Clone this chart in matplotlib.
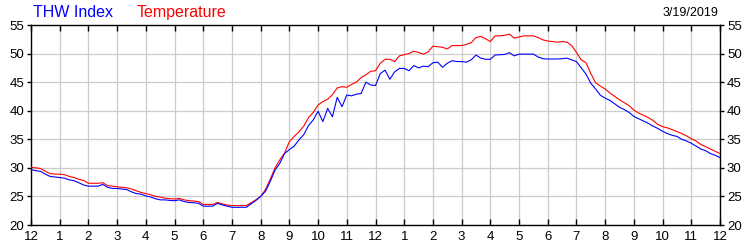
import numpy as np
import matplotlib
matplotlib.use("Agg")
import matplotlib.pyplot as plt

plt.rcParams['font.family'] = ['Liberation Sans', 'DejaVu Sans']

# 10-minute readings, hour 0 to hour 24
temperature = [
    30.1, 30.0, 29.9, 29.4, 29.0, 28.9,
    28.9, 28.8, 28.5, 28.3, 28.0, 27.8,
    27.3, 27.3, 27.3, 27.4, 26.9, 26.8,
    26.7, 26.6, 26.5, 26.3, 26.0, 25.7,
    25.5, 25.3, 25.0, 24.9, 24.7, 24.6,
    24.55, 24.65, 24.4, 24.25, 24.2, 24.1,
    23.6, 23.6, 23.6, 23.95, 23.7, 23.5,
    23.4, 23.4, 23.4, 23.4, 23.9, 24.4,
    25.0, 26.2, 28.0, 30.0, 31.4, 32.6,
    34.6, 35.5, 36.3, 37.3, 38.8, 39.7,
    41.0, 41.6, 42.0, 42.8, 44.0, 44.2,
    44.1, 44.6, 45.0, 45.8, 46.3, 46.9,
    47.0, 48.3, 49.0, 49.0, 48.6, 49.6,
    49.8, 50.0, 50.4, 50.2, 49.9, 50.3,
    51.3, 51.2, 51.1, 50.8, 51.4, 51.4,
    51.4, 51.6, 51.9, 52.8, 53.0, 52.6,
    52.1, 53.1, 53.1, 53.2, 53.4, 52.7,
    52.9, 53.1, 53.1, 53.1, 52.8, 52.4,
    52.2, 52.1, 52.0, 52.1, 52.0, 51.4,
    50.2, 48.9, 48.4, 46.5, 44.9, 44.3,
    43.8, 43.1, 42.5, 41.9, 41.4, 40.9,
    40.1, 39.6, 39.2, 38.8, 38.3, 37.6,
    37.2, 37.0, 36.7, 36.35, 36.0, 35.6,
    35.1, 34.7, 34.1, 33.7, 33.3, 32.9,
    32.5,
]

thw_index = [
    29.7, 29.5, 29.4, 28.9, 28.5, 28.4,
    28.3, 28.2, 27.9, 27.75, 27.4, 27.0,
    26.8, 26.8, 26.8, 27.1, 26.6, 26.4,
    26.4, 26.3, 26.2, 25.8, 25.5, 25.4,
    25.1, 24.9, 24.6, 24.4, 24.4, 24.3,
    24.25, 24.4, 24.1, 23.95, 23.9, 23.8,
    23.3, 23.3, 23.3, 23.8, 23.5, 23.3,
    23.1, 23.1, 23.1, 23.1, 23.7, 24.3,
    25.0, 25.9, 27.6, 29.6, 30.8, 32.5,
    33.2, 33.8, 34.9, 35.8, 37.4, 38.4,
    39.9, 38.1, 40.4, 38.95, 42.35, 40.7,
    42.75, 42.6, 42.9, 43.0, 45.0, 44.5,
    44.4, 46.5, 47.1, 45.5, 46.8, 47.4,
    47.4, 47.0, 47.9, 47.5, 47.8, 47.7,
    48.4, 48.5, 47.6, 48.3, 48.75, 48.6,
    48.6, 48.5, 48.9, 49.75, 49.2, 49.0,
    49.0, 49.75, 49.8, 49.85, 50.15, 49.6,
    49.9, 49.9, 49.9, 49.9, 49.4, 49.1,
    49.05, 49.05, 49.05, 49.1, 49.2, 48.9,
    48.6, 47.5, 46.4, 44.8, 43.8, 42.7,
    42.2, 41.8, 41.2, 40.6, 40.2, 39.7,
    39.0, 38.6, 38.2, 37.8, 37.3, 36.9,
    36.4, 36.0, 35.7, 35.5, 35.0, 34.7,
    34.3, 33.8, 33.3, 33.0, 32.5, 32.2,
    31.8,
]

hour_labels = ["12", "1", "2", "3", "4", "5", "6", "7", "8", "9", "10", "11",
               "12", "1", "2", "3", "4", "5", "6", "7", "8", "9", "10", "11", "12"]
y_ticks = [20, 25, 30, 35, 40, 45, 50, 55]
date_label = "3/19/2019"

hours = np.arange(len(temperature)) / 6.0

fig = plt.figure(figsize=(7.5, 2.5), dpi=100)
ax = fig.add_axes([31 / 750, 25 / 250, 689 / 750, 200 / 250])

ax.plot(hours, temperature, color='#ff0000', lw=0.8, zorder=3)
ax.plot(hours, thw_index, color='#0000ff', lw=0.8, zorder=4)

ax.set_xlim(0, 24)
ax.set_ylim(20, 55)
ax.set_xticks(range(25))
ax.set_xticklabels(hour_labels)
ax.set_yticks(y_ticks)
ax.set_yticklabels([str(v) for v in y_ticks])

ax.grid(True, color='#cccccc', lw=0.9)
ax.set_axisbelow(True)
for s in ax.spines.values():
    s.set_color('black')
    s.set_linewidth(1.0)

ax.tick_params(axis='x', direction='in', top=True, bottom=True, length=4,
               width=1, pad=4, labelsize=9.5, colors='black')
ax.tick_params(axis='y', direction='out', left=True, right=True,
               labelleft=True, labelright=True, length=3, width=1, pad=2,
               labelsize=9.5, colors='black')

fig.text(33 / 750, 1 - 17 / 250, "THW Index", color='#0000ff', fontsize=11.5,
         ha='left', va='baseline')
fig.text(137 / 750, 1 - 17 / 250, "Temperature", color='#ff0000', fontsize=11.5,
         ha='left', va='baseline')
fig.text(718 / 750, 1 - 16 / 250, date_label, color='black', fontsize=9,
         ha='right', va='baseline')

fig.savefig("out.png", dpi=100)
